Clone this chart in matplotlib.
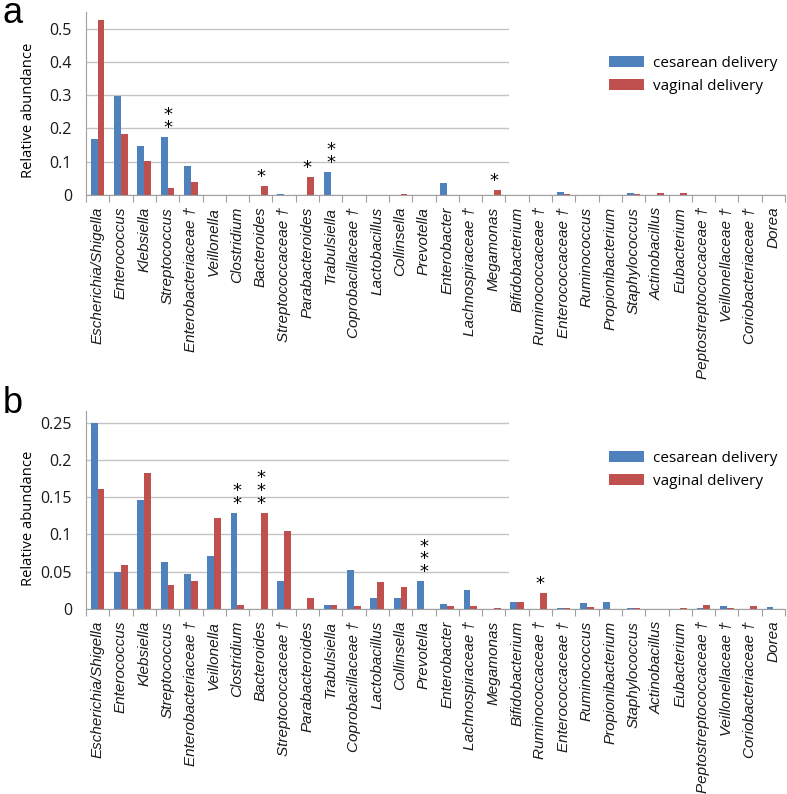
import numpy as np
import matplotlib
matplotlib.use("Agg")
import matplotlib.pyplot as plt
from matplotlib.patches import Rectangle
from matplotlib.ticker import FixedLocator, FuncFormatter

genera = ["Escherichia/Shigella", "Enterococcus", "Klebsiella", "Streptococcus",
          "Enterobacteriaceae \u2020", "Veillonella", "Clostridium", "Bacteroides",
          "Streptococcaceae \u2020", "Parabacteroides", "Trabulsiella",
          "Coprobacillaceae \u2020", "Lactobacillus", "Collinsella", "Prevotella",
          "Enterobacter", "Lachnospiraceae \u2020", "Megamonas", "Bifidobacterium",
          "Ruminococcaceae \u2020", "Enterococcaceae \u2020", "Ruminococcus",
          "Propionibacterium", "Staphylococcus", "Actinobacillus", "Eubacterium",
          "Peptostreptococcaceae \u2020", "Veillonellaceae \u2020",
          "Coriobacteriaceae \u2020", "Dorea"]

# panel a
a_cesarean = [0.168, 0.298, 0.148, 0.174, 0.087, 0.0, 0.0, 0.0, 0.002, 0.0,
              0.069, 0.0, 0.0, 0.0, 0.0, 0.035, 0.0, 0.0, 0.0, 0.0,
              0.009, 0.0, 0.0, 0.005, 0.0, 0.0, 0.0, 0.0, 0.0, 0.0]
a_vaginal = [0.525, 0.184, 0.101, 0.020, 0.039, 0.0, 0.0, 0.027, 0.001, 0.054,
             0.001, 0.0, 0.0, 0.003, 0.0, 0.0, 0.0, 0.015, 0.0, 0.0,
             0.004, 0.0, 0.0, 0.003, 0.006, 0.005, 0.0, 0.0, 0.0, 0.0]
a_stars = [(3, "**"), (7, "*"), (9, "*"), (10, "**"), (17, "*")]

# panel b
b_cesarean = [0.249, 0.049, 0.1465, 0.063, 0.047, 0.071, 0.129, 0.0005, 0.038, 0.0,
              0.005, 0.052, 0.0144, 0.0144, 0.0376, 0.0071, 0.026, 0.0, 0.009, 0.0,
              0.0014, 0.008, 0.009, 0.0013, 0.0, 0.0, 0.0013, 0.0036, 0.0, 0.0031]
b_vaginal = [0.161, 0.059, 0.182, 0.032, 0.038, 0.122, 0.006, 0.129, 0.104, 0.015,
             0.005, 0.004, 0.0367, 0.030, 0.0, 0.0036, 0.0036, 0.0018, 0.0099, 0.0215,
             0.0014, 0.0027, 0.0, 0.0009, 0.0, 0.0007, 0.0049, 0.0013, 0.0045, 0.0]
b_stars = [(6, "**"), (7, "***"), (14, "***"), (19, "*")]

blue = "#4F81BD"
red = "#C0504D"
W, H = 787, 794

fig = plt.figure(figsize=(W / 100, H / 100), dpi=100)


def draw_panel(rect, cesarean, vaginal, stars, ymax, ystep, letter, letter_y, leg_y):
    ax = fig.add_axes(rect)
    x = np.arange(len(genera))
    w = 0.29
    ax.bar(x - w / 2, cesarean, w, color=blue, label="cesarean delivery", zorder=2)
    ax.bar(x + w / 2, vaginal, w, color=red, label="vaginal delivery", zorder=2)
    ax.set_xlim(-0.5, len(genera) - 0.5)
    ax.set_ylim(0, ymax)
    ax.set_yticks(np.arange(0, ymax + 1e-9, ystep))
    ax.yaxis.set_major_formatter(FuncFormatter(lambda v, p: "{:g}".format(round(v, 3))))
    ax.set_xticks(x)
    ax.set_xticklabels(genera, rotation=90, fontstyle="italic", fontsize=11,
                       family="Liberation Sans", color="#1a1a1a")
    ax.xaxis.set_minor_locator(FixedLocator(np.arange(-0.5, len(genera), 1)))
    ax.tick_params(axis="x", which="major", length=0, pad=8.5)
    ax.tick_params(axis="x", which="minor", length=5, color="#a0a0a0", width=0.8)
    ax.tick_params(axis="y", length=0, pad=10, labelsize=11.5, labelcolor="#1a1a1a")
    for lab in ax.get_yticklabels():
        lab.set_family("Open Sans")
    ax.grid(axis="y", color="#c4c4c4", lw=1.0)
    ax.set_axisbelow(True)
    for s in ["top", "right"]:
        ax.spines[s].set_visible(False)
    ax.spines["left"].set_color("#a0a0a0")
    ax.spines["bottom"].set_color("#a0a0a0")
    ax.set_ylabel("Relative abundance", fontsize=10.6, family="Open Sans")
    ax.yaxis.set_label_coords(-50 / 699, 0.46)
    # white legend area hides the gridlines on the right
    ax.add_patch(Rectangle((0.605, 0.03), 0.5, 1.0, transform=ax.transAxes,
                           facecolor="white", edgecolor="none", zorder=1, clip_on=False))
    for i, s in stars:
        top = max(cesarean[i], vaginal[i])
        ax.annotate("\n".join(s), (i, top), xytext=(0, 0), textcoords="offset points",
                    ha="center", va="bottom", fontsize=13, linespacing=0.62,
                    family="DejaVu Sans", zorder=4)
    ax.legend(loc="upper left", bbox_to_anchor=(609 / W, 1 - leg_y / H),
              bbox_transform=fig.transFigure, frameon=False,
              prop={"family": "Open Sans", "size": 11},
              handlelength=2.3, handleheight=0.7, labelspacing=0.5,
              handletextpad=0.6, borderpad=0, borderaxespad=0)
    fig.text(3 / W, 1 - letter_y / H, letter, fontsize=26, family="Liberation Sans",
             va="baseline", ha="left")
    return ax


draw_panel([86 / W, 1 - 195 / H, 699 / W, 183 / H], a_cesarean, a_vaginal, a_stars,
           0.55, 0.1, "a", 23, 56)
draw_panel([86 / W, 1 - 609 / H, 699 / W, 198 / H], b_cesarean, b_vaginal, b_stars,
           0.2655, 0.05, "b", 413, 451)

fig.savefig("out.png", dpi=100)
